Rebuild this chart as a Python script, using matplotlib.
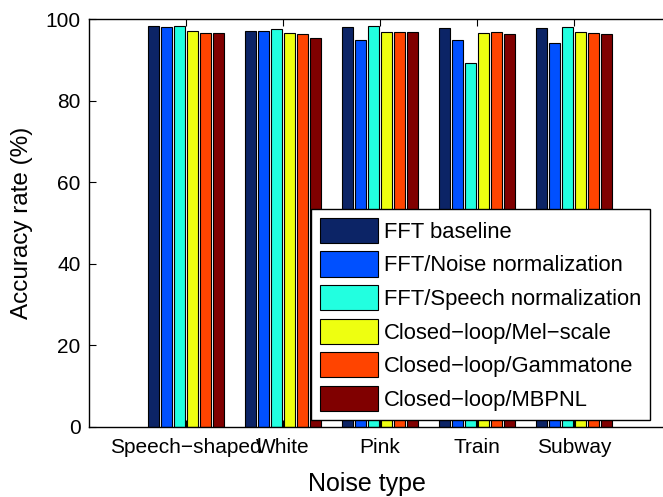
import numpy as np
import matplotlib
matplotlib.use("Agg")
import matplotlib.pyplot as plt

plt.rcParams['font.family'] = ['Liberation Sans', 'DejaVu Sans']

noise_types = ["Speech\u2212shaped", "White", "Pink", "Train", "Subway"]
methods = [
    "FFT baseline",
    "FFT/Noise normalization",
    "FFT/Speech normalization",
    "Closed\u2212loop/Mel\u2212scale",
    "Closed\u2212loop/Gammatone",
    "Closed\u2212loop/MBPNL",
]
colors = ["#0c2466", "#0050ff", "#22ffe0", "#eeff10", "#ff4400", "#800000"]

fft_baseline = [98.4, 97.2, 98.1, 97.9, 97.9]
fft_noise_norm = [98.2, 97.2, 95.0, 95.0, 94.2]
fft_speech_norm = [98.4, 97.6, 98.3, 89.3, 98.1]
cl_mel = [97.1, 96.6, 97.0, 96.7, 96.8]
cl_gammatone = [96.6, 96.4, 97.0, 96.9, 96.6]
cl_mbpnl = [96.7, 95.4, 97.0, 96.3, 96.5]

series = [fft_baseline, fft_noise_norm, fft_speech_norm, cl_mel, cl_gammatone, cl_mbpnl]

fig = plt.figure(figsize=(6.63, 4.97), dpi=100)
ax = fig.add_axes([89 / 663, 1 - 426.7 / 497, 582 / 663, 407.4 / 497])

x = np.arange(1, len(noise_types) + 1)
step = 0.8 / len(series)
width = 0.11
for j, (vals, col, lab) in enumerate(zip(series, colors, methods)):
    ax.bar(x + (j - (len(series) - 1) / 2) * step, vals, width=width,
           color=col, edgecolor="black", linewidth=0.8, label=lab)

ax.set_xlim(0, 6)
ax.set_ylim(0, 100)
ax.set_xticks(x)
ax.set_xticklabels(noise_types, fontsize=15)
ax.set_yticks(np.arange(0, 101, 20))
ax.tick_params(axis="y", labelsize=15, pad=6)
ax.tick_params(axis="x", pad=8)
ax.tick_params(direction="in", top=True, right=True, length=5, width=0.8)
for sp in ax.spines.values():
    sp.set_linewidth(1.0)

ax.set_xlabel("Noise type", fontsize=18)
ax.set_ylabel("Accuracy rate (%)", fontsize=17.5)
ax.xaxis.set_label_coords((367 - 89) / 582, -0.112)
ax.yaxis.set_label_coords(-0.097, 0.5)

leg = ax.legend(loc="lower left", bbox_to_anchor=(311 / 663, 77 / 497),
                bbox_transform=fig.transFigure, fontsize=15.8, frameon=True,
                fancybox=False, shadow=False, borderaxespad=0,
                handlelength=2.65, handleheight=1.38, handletextpad=0.27,
                labelspacing=0.39, borderpad=0.41)
leg.get_frame().set_edgecolor("black")
leg.get_frame().set_linewidth(1.0)
leg.get_frame().set_alpha(1.0)

fig.savefig("out.png", dpi=100)
